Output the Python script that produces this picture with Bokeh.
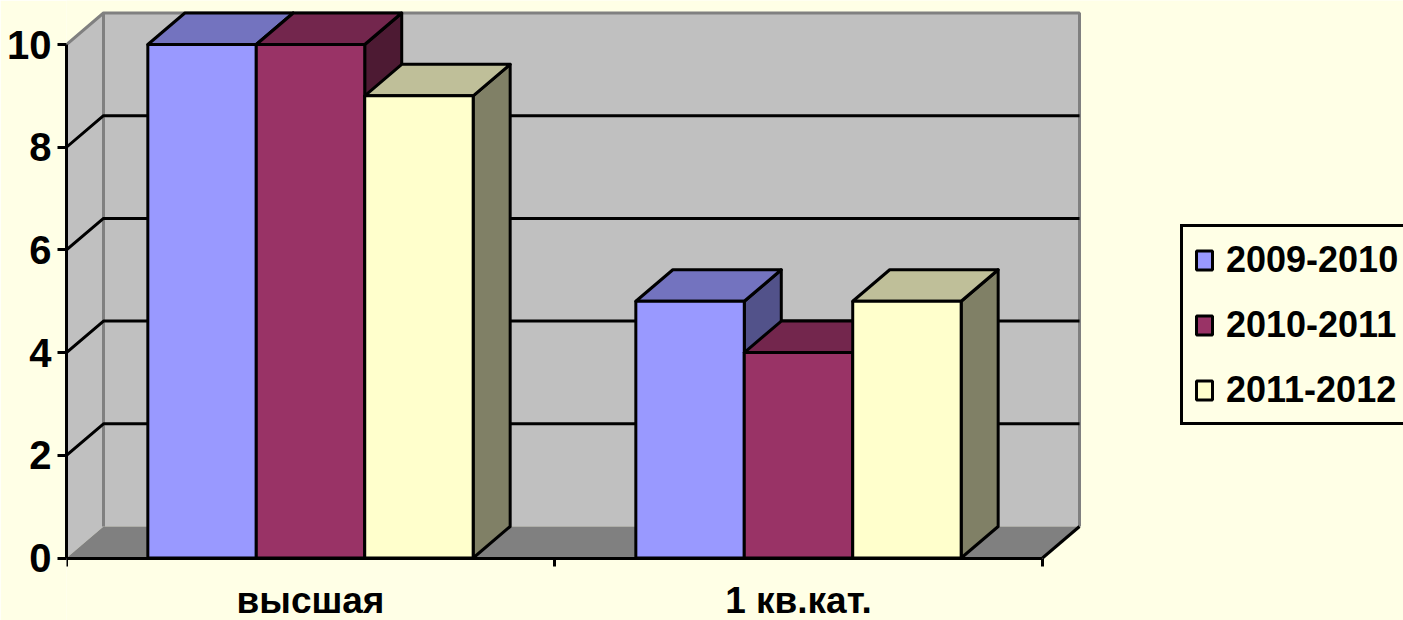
from bokeh.plotting import figure
from bokeh.models import Legend, LegendItem, LinearAxis, FixedTicker, Range1d
from bokeh.embed import file_html
from bokeh.resources import INLINE

categories = ["высшая", "1 кв.кат."]
series_names = ["2009-2010", "2010-2011", "2011-2012"]
values_2009 = [10, 5]
values_2010 = [10, 4]
values_2011 = [9, 5]
y_ticks = [0, 2, 4, 6, 8, 10]
grid_values = [2, 4, 6, 8]

front = ["#9999FF", "#993366", "#FFFFCC"]
top = ["#7373BF", "#73264D", "#BFBF99"]
side = ["#52528A", "#4D1A33", "#808066"]

BG = "#FFFFE6"
LW = 3
XU = 488             # px per category
YU = 51.35           # px per value unit
DX = 37 / XU         # depth, category units
DY = 31.5 / YU       # depth, value units
BAR = 1 / 4.5        # 150 % gap
GAP = 0.75 / 4.5
NC = len(categories)
YMAX = 10

p = figure(width=1403, height=620, output_backend="svg", toolbar_location=None,
           x_range=Range1d(0, 1337 / XU), y_range=Range1d(-62.5 / YU, 557.5 / YU),
           x_axis_location=None, y_axis_location=None,
           min_border_left=66, min_border_right=0, min_border_top=0, min_border_bottom=0,
           background_fill_color=BG, border_fill_color=BG, outline_line_color=None)
p.grid.visible = False

# walls and floor
p.patch([0, DX, DX, 0], [0, DY, YMAX + DY, YMAX], fill_color="#C0C0C0", line_color=None)
p.patch([DX, NC + DX, NC + DX, DX], [DY, DY, YMAX + DY, YMAX + DY], fill_color="#C0C0C0", line_color=None)
p.patch([0, DX, NC + DX, NC], [0, DY, DY, 0], fill_color="#808080", line_color=None)
p.line([0, DX, NC + DX, NC + DX], [YMAX, YMAX + DY, YMAX + DY, DY], line_color="#808080", line_width=LW)
p.line([DX, DX], [DY, YMAX + DY], line_color="#808080", line_width=LW)
p.line([NC, NC + DX], [0, DY], line_color="black", line_width=LW)

# gridlines
for g in grid_values:
    p.line([0, DX, NC + DX], [g, g + DY, g + DY], line_color="black", line_width=LW)

# bars
all_values = [values_2009, values_2010, values_2011]
legend_items = []
for c in range(NC):
    for s, vals in enumerate(all_values):
        x0 = c + GAP + s * BAR
        x1 = x0 + BAR
        v = vals[c]
        p.patch([x1, x1 + DX, x1 + DX, x1], [0, DY, v + DY, v], fill_color=side[s],
                line_color="black", line_width=LW, line_join="round")
        p.patch([x0, x1, x1 + DX, x0 + DX], [v, v, v + DY, v + DY], fill_color=top[s],
                line_color="black", line_width=LW, line_join="round")
        r = p.quad(left=[x0], right=[x1], bottom=[0], top=[v], fill_color=front[s],
                   line_color="black", line_width=LW)
        if c == 0:
            legend_items.append(LegendItem(label=series_names[s], renderers=[r]))

# axes
yax = LinearAxis(ticker=FixedTicker(ticks=y_ticks), bounds=(0, YMAX))
yax.axis_line_color = "black"; yax.axis_line_width = LW
yax.major_tick_line_color = "black"; yax.major_tick_line_width = LW
yax.major_tick_in = 0; yax.major_tick_out = 9
yax.minor_tick_line_color = None
yax.major_label_standoff = 6
yax.major_label_text_font = "Liberation Sans"
yax.major_label_text_font_size = "40px"
yax.major_label_text_font_style = "bold"
yax.major_label_text_color = "black"
p.add_layout(yax, "left")

xax = LinearAxis(ticker=FixedTicker(ticks=[i + 0.5 for i in range(NC)],
                                    minor_ticks=list(range(NC + 1))),
                 bounds=(0, NC), fixed_location=0)
xax.major_label_overrides = {i + 0.5: categories[i] for i in range(NC)}
xax.axis_line_color = "black"; xax.axis_line_width = LW
xax.major_tick_line_color = None
xax.major_tick_in = 0; xax.major_tick_out = 0
xax.minor_tick_line_color = "black"; xax.minor_tick_line_width = LW
xax.minor_tick_in = 0; xax.minor_tick_out = 8
xax.major_label_standoff = 14
xax.major_label_text_font = "Liberation Sans"
xax.major_label_text_font_size = "37px"
xax.major_label_text_font_style = "bold"
xax.major_label_text_color = "black"
p.add_layout(xax, "below")

legend = Legend(items=legend_items, location=(1180 - 66, 620 - 425), orientation="vertical",
                background_fill_color=BG, background_fill_alpha=1,
                border_line_color="black", border_line_alpha=1, border_line_width=LW,
                padding=11, spacing=22, margin=0,
                glyph_width=20, glyph_height=24, label_standoff=12, label_height=43,
                label_text_font="Liberation Sans", label_text_font_size="36px",
                label_text_font_style="bold", label_text_color="black")
p.add_layout(legend, "center")

open("out.html", "w").write(file_html(p, INLINE))
